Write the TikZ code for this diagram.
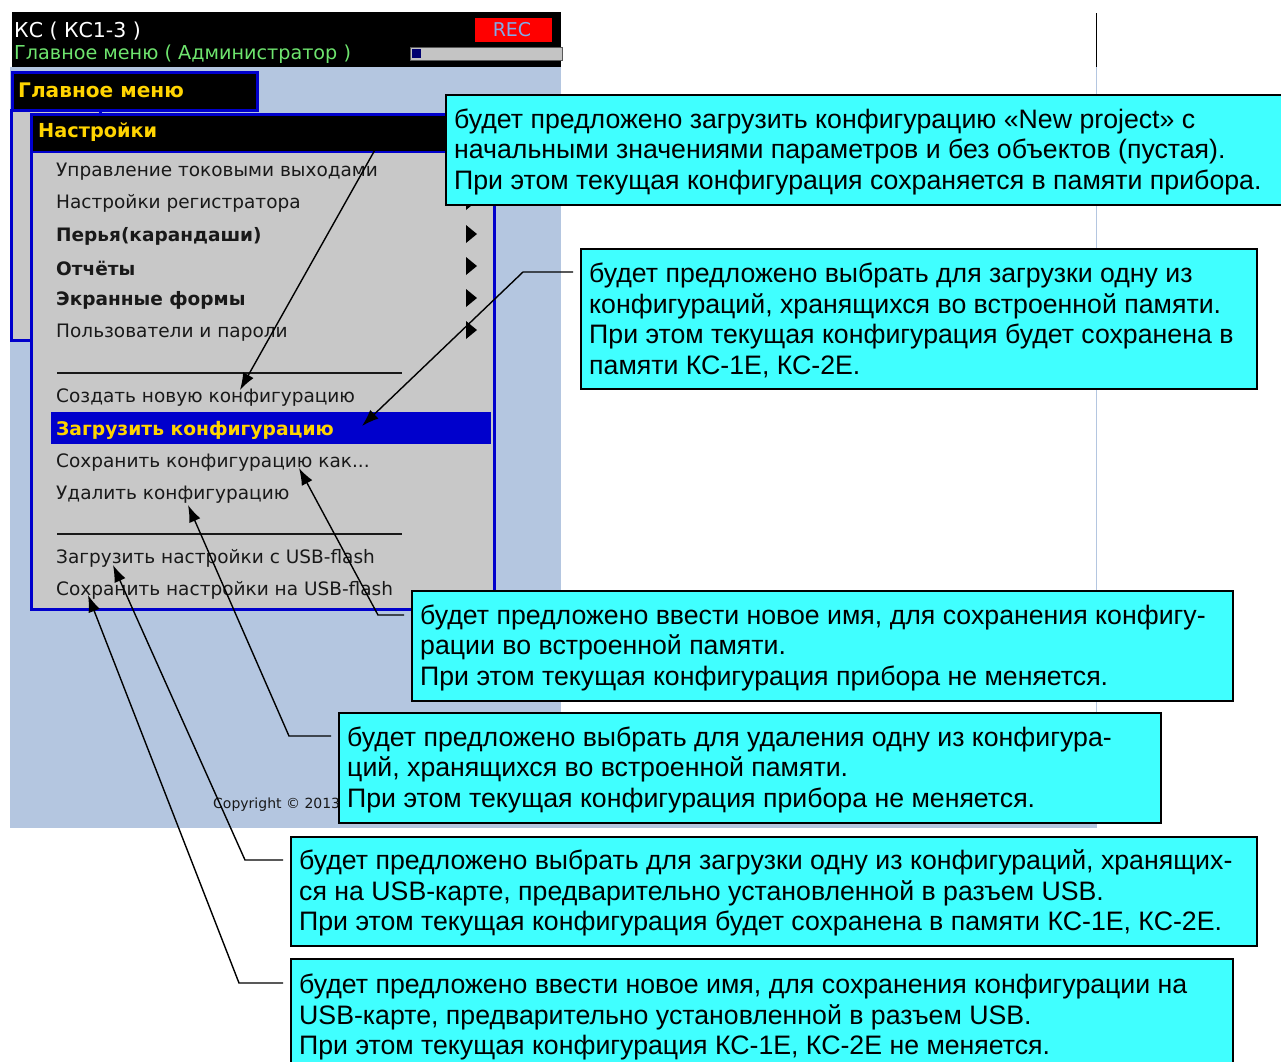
\documentclass[tikz,border=0pt]{standalone}
\usepackage{fontspec}
\setmainfont{Liberation Sans}
\newfontfamily\tah{DejaVu Sans}
\usetikzlibrary{arrows.meta}
\definecolor{scrbg}{RGB}{180,198,224}
\definecolor{menugray}{RGB}{200,200,200}
\definecolor{menublue}{RGB}{0,0,204}
\definecolor{ylw}{RGB}{255,212,0}
\definecolor{grn}{RGB}{110,228,110}
\definecolor{callout}{RGB}{64,255,255}
\definecolor{recblue}{RGB}{130,170,232}
\definecolor{itemtxt}{RGB}{25,25,25}
\definecolor{bargray}{RGB}{196,196,196}
\begin{document}
\begin{tikzpicture}[x=1pt,y=-1pt,
  box/.style={draw=black, line width=2pt, fill=callout, inner sep=0pt, anchor=north west},
  btxt/.style={anchor=west, align=left, inner sep=0pt, yshift=-1.5pt, font=\fontsize{26.7}{30.5}\selectfont},
  item/.style={anchor=west, inner sep=0pt, yshift=-2.5pt, text=itemtxt, font=\tah\fontsize{18.5}{20}\selectfont},
  bitem/.style={anchor=west, inner sep=0pt, yshift=-2.5pt, text=itemtxt, font=\tah\bfseries\fontsize{18.5}{20}\selectfont},
  conn/.style={draw=black, line width=1.4pt, -{Latex[length=17pt,width=12pt]}, shorten <=7pt},
  subarr/.style={fill=black},
  sepline/.style={draw=itemtxt, line width=1.8pt}
]
\useasboundingbox (0,0) rectangle (1281,1061);
\clip (0,0) rectangle (1281,1061);
\fill[white] (0,0) rectangle (1281,1061);
% screen background
\fill[scrbg] (10,67) rectangle (561,828);
\fill[scrbg] (561,822) rectangle (1097,828);
\draw[scrbg, line width=1pt] (1096,67) -- (1096,828);
\draw[black, line width=1pt] (1096,13) -- (1096,67);
% header
\fill[black] (12,12) rectangle (561,67);
\node[anchor=west, inner sep=0pt, text=white, font=\tah\fontsize{20.5}{22}\selectfont] (hdr1) at (14,31) {КС ( КС1-3 )};
\node[anchor=west, inner sep=0pt, text=grn, font=\tah\fontsize{19.2}{22}\selectfont] (hdr2) at (14,54) {Главное меню ( Администратор )};
\fill[red] (475,18) rectangle (552,42);
\node[inner sep=0pt, text=recblue, font=\tah\fontsize{19}{22}\selectfont] (rec) at (512,30) {REC};
\draw[fill=bargray, draw=gray!70!black, line width=1pt] (410,47) rectangle (562,60);
\fill[black!20!blue!55!black] (412,49) rectangle (421,58);
% main menu
\node[draw=menublue, line width=3pt, fill=black, minimum width=245pt, minimum height=38pt, inner sep=0pt, anchor=north west] (mainhdr) at (11,71) {};
\node[anchor=west, inner sep=0pt, text=ylw, font=\tah\bfseries\fontsize{20.1}{22}\selectfont] (mainlbl) at (18,90) {Главное меню};
\draw[fill=menugray, draw=menublue, line width=3pt] (11,110) rectangle (100,340);
% settings panel
\draw[fill=menugray, draw=menublue, line width=3pt] (31,114) rectangle (494,609);
\fill[black] (32.5,115.5) rectangle (492.5,151);
\draw[menublue, line width=2pt] (32,152) -- (493,152);
\node[anchor=west, inner sep=0pt, text=ylw, font=\tah\bfseries\fontsize{19.3}{22}\selectfont] (setlbl) at (38,132) {Настройки};
\node[item] (i1) at (56,169) {Управление токовыми выходами};
\node[item] (i2) at (56,201) {Настройки регистратора};
\node[bitem] (i3) at (56,234) {Перья(карандаши)};
\node[bitem] (i4) at (56,266) {Отчёты};
\node[bitem] (i5) at (56,298) {Экранные формы};
\node[item] (i6) at (56,330) {Пользователи и пароли};
\foreach \yy in {169,201,234,266,298,330} {
  \fill[subarr] (466,\yy-9) -- (477,\yy) -- (466,\yy+9) -- cycle;
}
\draw[sepline] (57,373) -- (402,373);
\node[item] (i7) at (56,395) {Создать новую конфигурацию};
\fill[menublue] (51,412) rectangle (491,444);
\node[bitem, text=ylw, font=\tah\bfseries\fontsize{18.7}{20}\selectfont] (i8) at (56,428) {Загрузить конфигурацию};
\node[item] (i9) at (56,460) {Сохранить конфигурацию как...};
\node[item] (i10) at (56,492) {Удалить конфигурацию};
\draw[sepline] (57,534) -- (402,534);
\node[item] (i11) at (56,556) {Загрузить настройки с USB-flash};
\node[item] (i12) at (56,588) {Сохранить настройки на USB-flash};
\node[anchor=west, inner sep=0pt, text=itemtxt, font=\tah\fontsize{14}{16}\selectfont] (copy) at (213,805) {Copyright © 2013};
% callout boxes
\node[box, minimum width=845pt, minimum height=110pt] (b1) at (445,94) {};
\node[btxt] (t1) at ([xshift=9pt]b1.west) {будет предложено загрузить конфигурацию «New project» с\\начальными значениями параметров и без объектов (пустая).\\При этом текущая конфигурация сохраняется в памяти прибора.};
\node[box, minimum width=676pt, minimum height=140pt] (b2) at (580,248) {};
\node[btxt] (t2) at ([xshift=9pt]b2.west) {будет предложено выбрать для загрузки одну из\\конфигураций, хранящихся во встроенной памяти.\\При этом текущая конфигурация будет сохранена в\\памяти КС-1Е, КС-2Е.};
\node[box, minimum width=821pt, minimum height=110pt] (b3) at (411,590) {};
\node[btxt] (t3) at ([xshift=9pt]b3.west) {будет предложено ввести новое имя, для сохранения конфигу-\\рации во встроенной памяти.\\При этом текущая конфигурация прибора не меняется.};
\node[box, minimum width=822pt, minimum height=110pt] (b4) at (338,712) {};
\node[btxt] (t4) at ([xshift=9pt]b4.west) {будет предложено выбрать для удаления одну из конфигура-\\ций, хранящихся во встроенной памяти.\\При этом текущая конфигурация прибора не меняется.};
\node[box, minimum width=966pt, minimum height=109pt] (b5) at (290,836) {};
\node[btxt] (t5) at ([xshift=9pt]b5.west) {будет предложено выбрать для загрузки одну из конфигураций, хранящих-\\ся на USB-карте, предварительно установленной в разъем USB.\\При этом текущая конфигурация будет сохранена в памяти КС-1Е, КС-2Е.};
\node[box, minimum width=942pt, minimum height=113pt] (b6) at (290,958) {};
\node[btxt] (t6) at ([xshift=9pt]b6.west) {будет предложено ввести новое имя, для сохранения конфигурации на\\USB-карте, предварительно установленной в разъем USB.\\При этом текущая конфигурация КС-1Е, КС-2Е не меняется.};
% connector corners and tips
\coordinate (c1) at (376,148); \coordinate (p1) at (240,390);
\coordinate (c2) at (523,272); \coordinate (p2) at (362,426);
\coordinate (c3) at (378,615); \coordinate (p3) at (299,468);
\coordinate (c4) at (289,736); \coordinate (p4) at (188,505);
\coordinate (c5) at (245,860); \coordinate (p5) at (113,565);
\coordinate (c6) at (239,983); \coordinate (p6) at (88,595);
\draw[conn] (b1.west |- c1) -- (c1) -- (p1);
\draw[conn] (b2.west |- c2) -- (c2) -- (p2);
\draw[conn] (b3.west |- c3) -- (c3) -- (p3);
\draw[conn] (b4.west |- c4) -- (c4) -- (p4);
\draw[conn] (b5.west |- c5) -- (c5) -- (p5);
\draw[conn] (b6.west |- c6) -- (c6) -- (p6);
\end{tikzpicture}
\end{document}
